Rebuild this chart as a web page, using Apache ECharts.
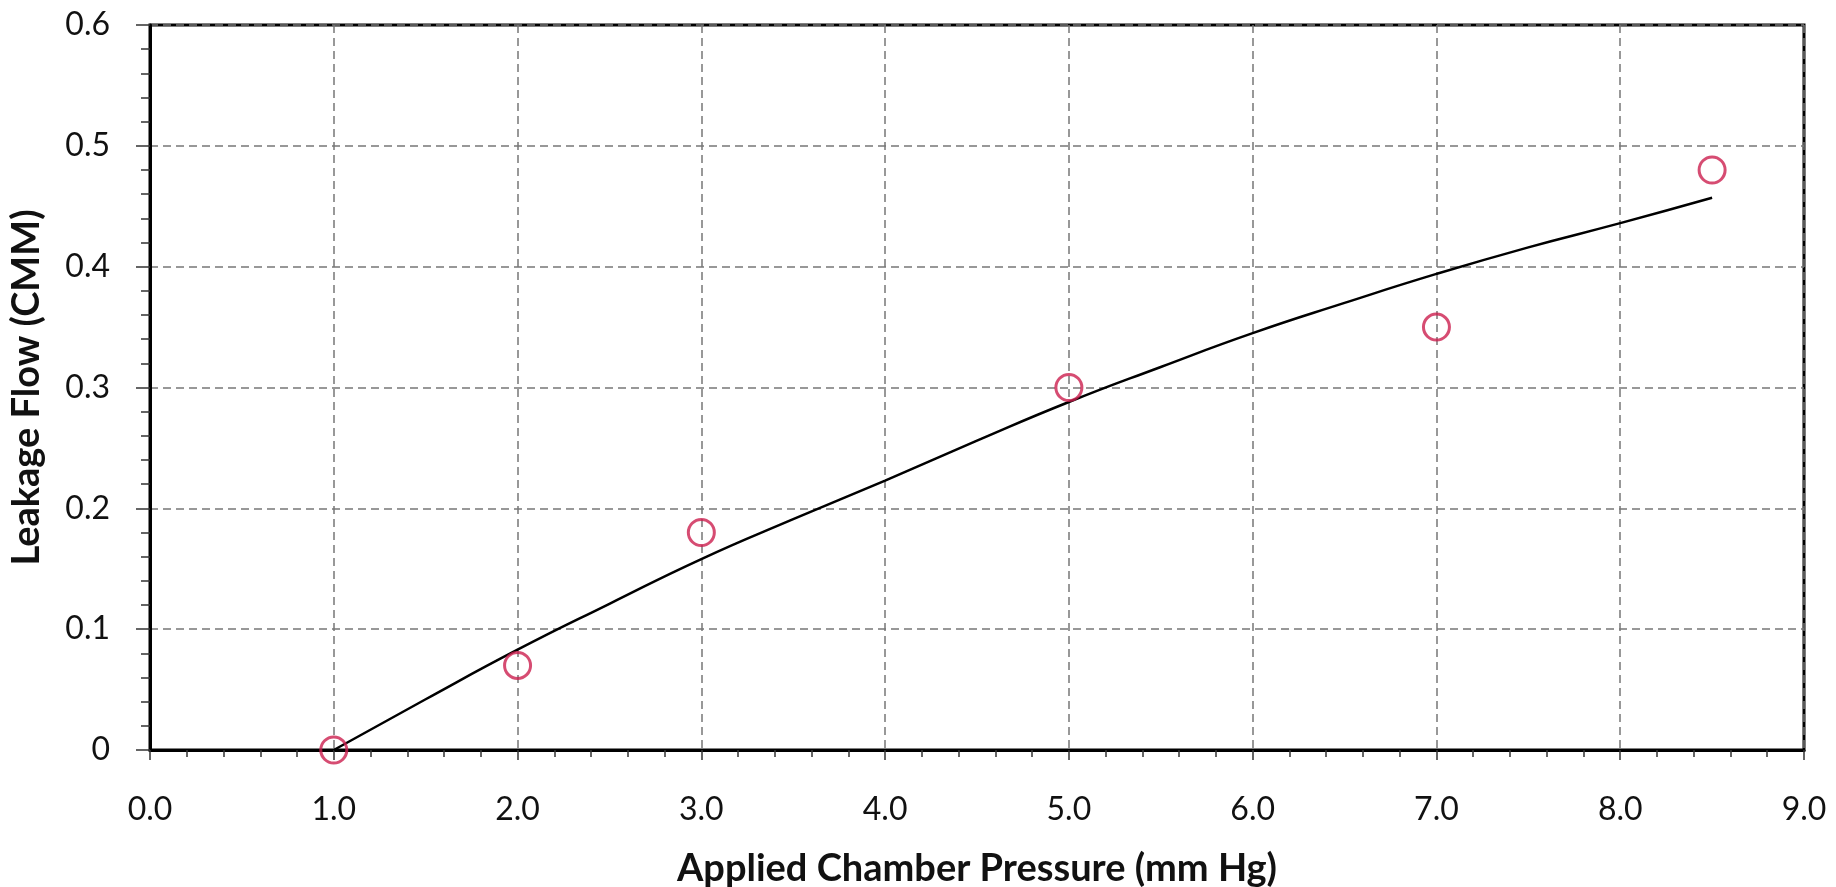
<!DOCTYPE html>
<html>
<head>
<meta charset="utf-8">
<script src="https://cdn.jsdelivr.net/npm/echarts@6/dist/echarts.min.js"></script>
<style>
  html, body { margin: 0; padding: 0; background: #fff; }
  #main { width: 1836px; height: 887px; }
</style>
</head>
<body>
<div id="main"></div>
<script>
// measured points (applied pressure, leakage flow)
var pressure = [1.0, 2.0, 3.0, 5.0, 7.0, 8.5];
var leakage = [0.0, 0.07, 0.18, 0.30, 0.35, 0.48];

// trend line
var trendX = [1.0, 1.5, 2.0, 2.5, 3.0, 3.5, 4.0, 4.5, 5.0, 5.5, 6.0, 6.5, 7.0, 7.5, 8.0, 8.5];
var trendY = [0.0, 0.042, 0.083, 0.121, 0.158, 0.191, 0.223, 0.256, 0.288, 0.317, 0.345, 0.370, 0.394, 0.416, 0.436, 0.457];

var font = 'Lato';

var myChart = echarts.init(document.getElementById('main'));

var option = {
  animation: false,
  backgroundColor: '#fff',
  grid: {
    left: 150,
    right: 32,
    top: 25,
    bottom: 137,
    outerBoundsMode: 'none',
    show: true,
    borderColor: '#000',
    borderWidth: 3
  },
  xAxis: {
    type: 'value',
    min: 0,
    max: 9,
    interval: 1,
    name: 'Applied Chamber Pressure (mm Hg)',
    nameLocation: 'middle',
    nameGap: 100,
    nameTextStyle: { fontFamily: font, fontWeight: 'bold', fontSize: 38, color: '#111' },
    axisLine: { lineStyle: { color: '#000', width: 3 } },
    axisTick: { show: true, length: 10, lineStyle: { color: '#333', width: 1.5 } },
    minorTick: { show: true, splitNumber: 5, length: 7, lineStyle: { color: '#333', width: 1.5 } },
    axisLabel: {
      fontFamily: font, fontSize: 32, color: '#111', margin: 44,
      formatter: function (v) { return v.toFixed(1); }
    },
    splitLine: { show: true, lineStyle: { color: '#777', type: [8, 5], width: 1.5 } }
  },
  yAxis: {
    type: 'value',
    min: 0,
    max: 0.6,
    interval: 0.1,
    name: 'Leakage Flow (CMM)',
    nameLocation: 'middle',
    nameGap: 104,
    nameTextStyle: { fontFamily: font, fontWeight: 'bold', fontSize: 38, color: '#111' },
    axisLine: { show: true, lineStyle: { color: '#000', width: 3 } },
    axisTick: { show: true, length: 14, lineStyle: { color: '#333', width: 1.5 } },
    minorTick: { show: true, splitNumber: 5, length: 9, lineStyle: { color: '#333', width: 1.5 } },
    axisLabel: {
      fontFamily: font, fontSize: 32, color: '#111', margin: 40,
      formatter: function (v) { return v === 0 ? '0' : v.toFixed(1); }
    },
    splitLine: { show: true, lineStyle: { color: '#777', type: [8, 5], width: 1.5 } }
  },
  series: [
    {
      name: 'trend',
      type: 'line',
      smooth: true,
      showSymbol: false,
      symbol: 'none',
      lineStyle: { color: '#000', width: 2.5 },
      data: trendX.map(function (x, i) { return [x, trendY[i]]; }),
      z: 3
    },
    {
      name: 'measured',
      type: 'scatter',
      symbol: 'circle',
      symbolSize: 26,
      itemStyle: { color: 'rgba(255,255,255,0)', borderColor: '#cc1f4f', borderWidth: 3 },
      data: pressure.map(function (x, i) { return [x, leakage[i]]; }),
      z: 4
    }
  ]
};

myChart.setOption(option);
</script>
</body>
</html>
